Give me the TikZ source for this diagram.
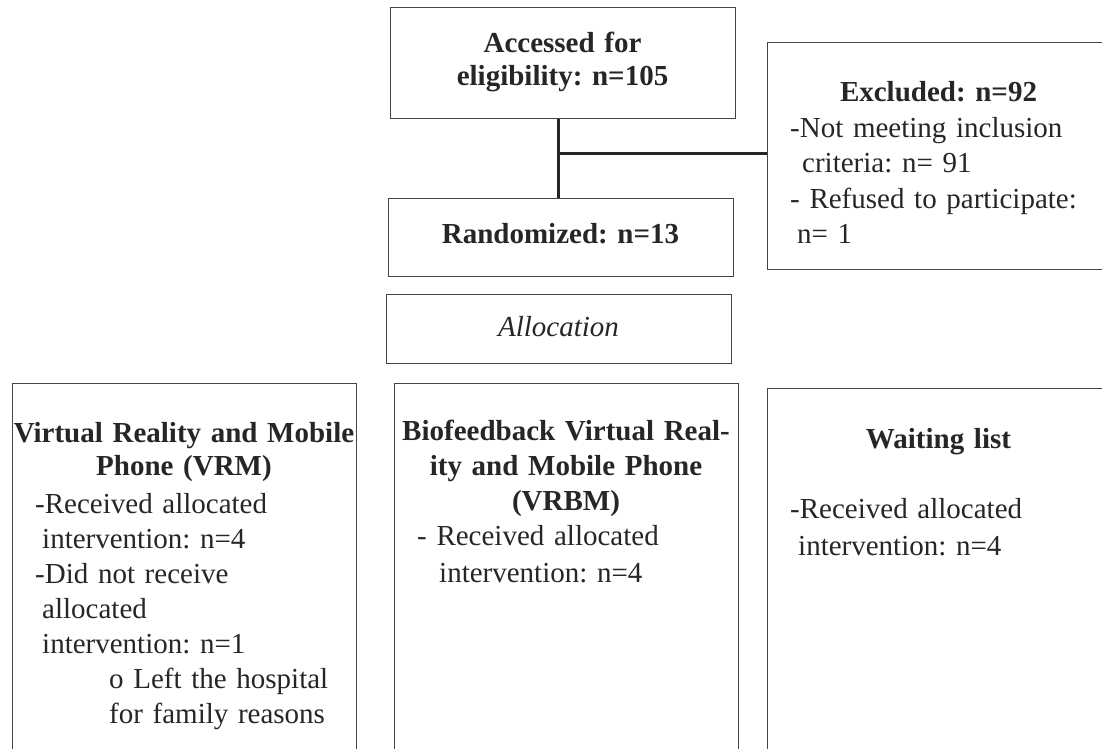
\documentclass[tikz,border=0pt]{standalone}
\usepackage{fontspec}
\setmainfont{Liberation Serif}
\frenchspacing
\definecolor{txt}{HTML}{262626}
\definecolor{ln}{HTML}{454545}
\begin{document}
\begin{tikzpicture}[x=1pt,y=-1pt,
  box/.style={draw=ln, line width=1.3pt, anchor=north west, inner sep=0pt},
  conn/.style={draw=txt, line width=3pt},
  ttl/.style={anchor=base, text=txt, align=center, inner sep=0pt, text width=400pt},
  body/.style={anchor=base west, text=txt, align=left, inner sep=0pt, text width=380pt},
]
\fill[white] (0,0) rectangle (1102,748);
\path[use as bounding box, clip] (0,0) rectangle (1102,748);

% boxes
\node[box, minimum width=345pt, minimum height=111pt] (A) at (390,7) {};
\node[box, minimum width=343pt, minimum height=227pt] (E) at (767,42) {};
\node[box, minimum width=345pt, minimum height=78pt] (R) at (388,198) {};
\node[box, minimum width=345pt, minimum height=69pt] (L) at (386,294) {};
\node[box, minimum width=344pt, minimum height=400pt] (B1) at (12,383) {};
\node[box, minimum width=344pt, minimum height=400pt] (B2) at (394,383) {};
\node[box, minimum width=343pt, minimum height=400pt] (B3) at (767,388) {};

% connectors
\coordinate (J) at (558,153);
\draw[conn] (A.south -| J) -- (R.north -| J);
\draw[conn] (J) -- (E.west |- J);

% texts
\node[ttl, font=\fontsize{29}{33}\selectfont\bfseries] (At) at (562.5,52) {Accessed for\\eligibility: n=105};
\node[ttl, font=\fontsize{29}{35}\selectfont\bfseries] (Rt) at (560.5,243) {Randomized: n=13};
\node[ttl, font=\fontsize{29}{35}\selectfont\itshape] (Lt) at (558.5,336) {Allocation};

\node[ttl, font=\fontsize{29}{35}\selectfont\bfseries] (Et) at (938.5,101) {Excluded: n=92};
\node[body, font=\fontsize{29}{35.5}\selectfont] (Eb) at (790,137)
  {-Not meeting inclusion\\\hspace*{12pt}criteria: n= 91\\- Refused to participate:\\\hspace*{7pt}n= 1};

\node[ttl, font=\fontsize{29}{33}\selectfont\bfseries] (B1t) at (184,442) {Virtual Reality and Mobile\\Phone (VRM)};
\node[body, font=\fontsize{29}{35}\selectfont] (B1b) at (35,513)
  {-Received allocated\\\hspace*{7pt}intervention: n=4\\-Did not receive\\\hspace*{7pt}allocated\\\hspace*{7pt}intervention: n=1\\\hspace*{74pt}o Left the hospital\\\hspace*{74pt}for family reasons};

\node[ttl, font=\fontsize{29}{35}\selectfont\bfseries] (B2t) at (566,440) {Biofeedback Virtual Real-\\ity and Mobile Phone\\(VRBM)};
\node[body, font=\fontsize{29}{37}\selectfont] (B2b) at (417,545)
  {- Received allocated\\\hspace*{22pt}intervention: n=4};

\node[ttl, font=\fontsize{29}{35}\selectfont\bfseries] (B3t) at (938.5,448) {Waiting list};
\node[body, font=\fontsize{29}{37}\selectfont] (B3b) at (790,518)
  {-Received allocated\\\hspace*{8pt}intervention: n=4};
\end{tikzpicture}
\end{document}
